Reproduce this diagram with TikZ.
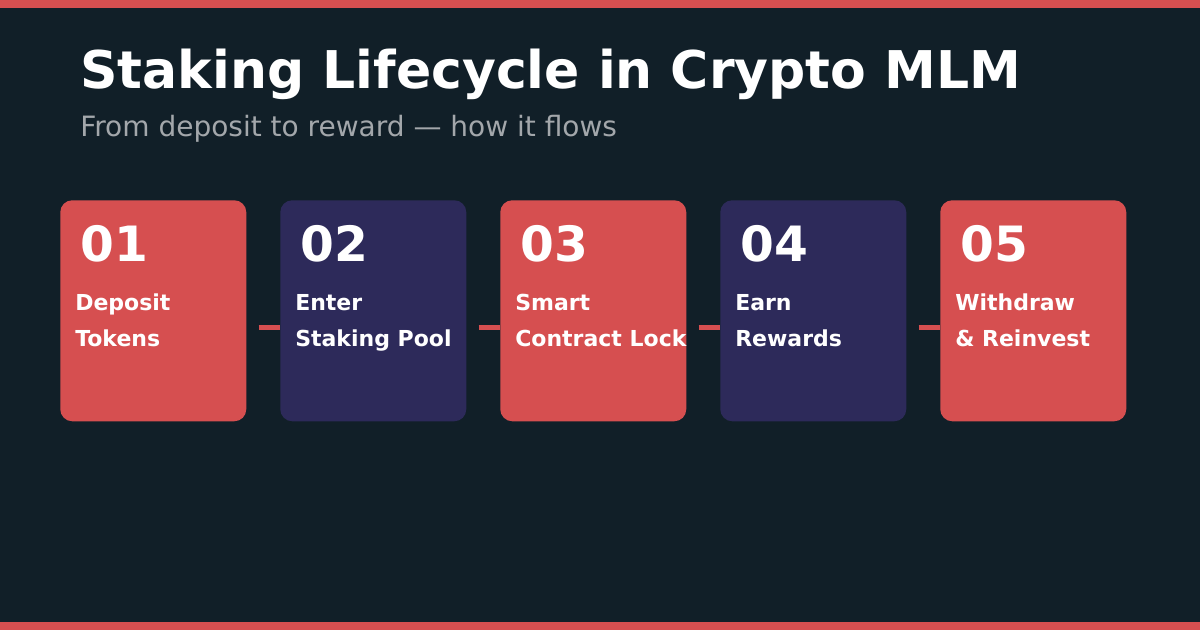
\documentclass[tikz,border=0pt]{standalone}
\usepackage{fontspec}
\setmainfont{DejaVu Sans}
\usepackage{xcolor}
\usetikzlibrary{positioning,calc}

\definecolor{bgdark}{HTML}{111F28}
\definecolor{coral}{HTML}{D64F50}
\definecolor{navy}{HTML}{2D2A5A}
\definecolor{subgrey}{HTML}{A3A7AB}

\begin{document}
\begin{tikzpicture}[
    x=0.75pt, y=-0.75pt,
    card/.style={rounded corners=9pt, minimum width=139.5pt, minimum height=165.75pt,
                 inner sep=0pt, anchor=north west},
    num/.style={anchor=base west, inner sep=0pt, text=white,
                font=\bfseries\fontsize{36.5}{36.5}\selectfont},
    steptext/.style={anchor=base west, inner sep=0pt, text=white,
                font=\bfseries\fontsize{16.5}{16.5}\selectfont},
    link/.style={draw=coral, line width=3.75pt}
]
% background and bars
\fill[bgdark] (0,0) rectangle (1200,630);
\fill[coral] (0,0) rectangle (1200,8);
\fill[coral] (0,622) rectangle (1200,630);
\useasboundingbox (0,0) rectangle (1200,630);

% heading
\node[anchor=base west, inner sep=0pt, text=white, font=\bfseries\fontsize{39}{39}\selectfont]
  (title) at (80,89) {Staking Lifecycle in Crypto MLM};
\node[anchor=base west, inner sep=0pt, text=subgrey, font=\fontsize{21}{21}\selectfont]
  (subtitle) at (80,137) {From deposit to reward — how it flows};

% cards
\foreach \i/\col/\one/\two in {1/coral/Deposit/Tokens, 2/navy/Enter/Staking Pool,
    3/coral/Smart/Contract Lock, 4/navy/Earn/Rewards, 5/coral/Withdraw/\& Reinvest}{
  \node[card, fill=\col] (card\i) at ({60+(\i-1)*220},200) {};
  \node[num] (num\i) at ($(card\i.north west)+(20,62)$) {0\i};
  \node[steptext] (lineA\i) at ($(card\i.north west)+(15,111)$) {\one};
  \node[steptext] (lineB\i) at ($(card\i.north west)+(15,147)$) {\two};
}

% connectors
\foreach \i [evaluate=\i as \j using int(\i+1)] in {1,...,4}{
  \coordinate (gap\i) at ($(card\i.east)+(12,17)$);
  \draw[link] (gap\i) -- (gap\i -| card\j.west);
}
\end{tikzpicture}
\end{document}
